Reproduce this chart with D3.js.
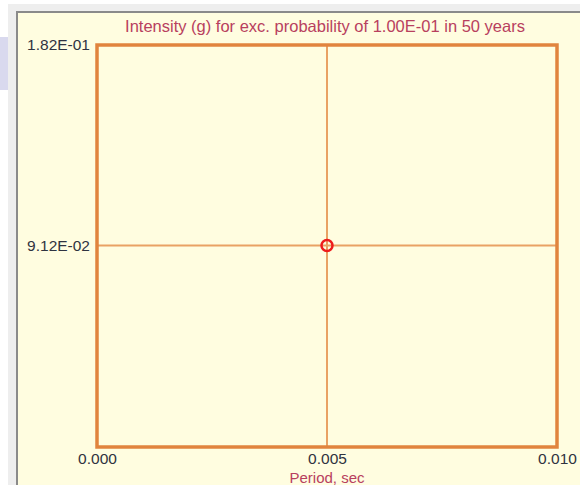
<!DOCTYPE html>
<html>
<head>
<meta charset="utf-8">
<style>
  body { margin: 0; background: #fff; }
  svg { display: block; font-family: "Liberation Sans", Arial, sans-serif; }
</style>
</head>
<body>
<svg width="580" height="485"></svg>
<script src="https://d3js.org/d3.v7.min.js"></script>
<script>
// chart values
var periods = [0.005];
var intensities = [0.0912];
var xTickValues = [0, 0.005, 0.010];
var yTickValues = [0.0912, 0.182];
var yDomain = [0, 0.182];
var xDomain = [0, 0.010];
var titleText = "Intensity (g) for exc. probability of 1.00E-01 in 50 years";
var xTitleText = "Period, sec";

var svg = d3.select("svg");

// window chrome around the panel
svg.append("rect").attr("x", 0).attr("y", 0).attr("width", 580).attr("height", 485).attr("fill", "#ffffff");
svg.append("rect").attr("x", 0).attr("y", 37).attr("width", 8).attr("height", 53).attr("fill", "#d9d9ee");
svg.append("rect").attr("x", 8).attr("y", 4).attr("width", 572).attr("height", 481).attr("fill", "#eeeeee");
svg.append("rect").attr("x", 16).attr("y", 11).attr("width", 564).attr("height", 474).attr("fill", "#8a8a8a");
svg.append("rect").attr("x", 18).attr("y", 13).attr("width", 562).attr("height", 472).attr("fill", "#fffde0");

var margin = {left: 97, right: 557, top: 45, bottom: 447};

var x = d3.scaleLinear().domain(xDomain).range([margin.left, margin.right]);
var y = d3.scaleLinear().domain(yDomain).range([margin.bottom, margin.top]);

// format like 1.82E-01
function sci(v) {
  var s = v.toExponential(2).split("e");
  var e = +s[1];
  var sign = e < 0 ? "-" : "+";
  return s[0] + "E" + sign + (Math.abs(e) < 10 ? "0" : "") + Math.abs(e);
}

// grid lines
var g = svg.append("g");
g.selectAll(".vgrid")
  .data(xTickValues.slice(1, -1))
  .enter().append("line")
    .attr("x1", function(d) { return x(d); })
    .attr("x2", function(d) { return x(d); })
    .attr("y1", margin.top)
    .attr("y2", margin.bottom)
    .attr("stroke", "#e9a264")
    .attr("stroke-width", 2);
g.selectAll(".hgrid")
  .data(yTickValues.slice(0, -1))
  .enter().append("line")
    .attr("x1", margin.left)
    .attr("x2", margin.right)
    .attr("y1", function(d) { return y(d); })
    .attr("y2", function(d) { return y(d); })
    .attr("stroke", "#e9a264")
    .attr("stroke-width", 2);

// plot frame
svg.append("rect")
  .attr("x", margin.left)
  .attr("y", margin.top)
  .attr("width", margin.right - margin.left)
  .attr("height", margin.bottom - margin.top)
  .attr("fill", "none")
  .attr("stroke", "#e1843e")
  .attr("stroke-width", 3.5);

// axes (labels only)
var xAxis = svg.append("g")
  .attr("transform", "translate(0," + margin.bottom + ")")
  .call(d3.axisBottom(x).tickValues(xTickValues).tickSize(0).tickPadding(6).tickFormat(d3.format(".3f")));
xAxis.select(".domain").remove();
xAxis.selectAll("text").attr("fill", "#2f3340").attr("font-size", 15.5).attr("font-family", null);

var yAxis = svg.append("g")
  .attr("transform", "translate(" + (margin.left - 7) + ",0)")
  .call(d3.axisLeft(y).tickValues(yTickValues).tickSize(0).tickPadding(0).tickFormat(sci));
yAxis.select(".domain").remove();
yAxis.selectAll("text").attr("fill", "#2f3340").attr("font-size", 15.5).attr("font-family", null);

// point
svg.selectAll(".pt")
  .data(periods)
  .enter().append("circle")
    .attr("cx", function(d) { return x(d); })
    .attr("cy", function(d, i) { return y(intensities[i]); })
    .attr("r", 5.5)
    .attr("fill", "none")
    .attr("stroke", "#ee1c1c")
    .attr("stroke-width", 2.5);

// titles
svg.append("text")
  .attr("x", 325)
  .attr("y", 32)
  .attr("text-anchor", "middle")
  .attr("fill", "#b8405e")
  .attr("font-size", 16.5)
  .text(titleText);

svg.append("text")
  .attr("x", 327)
  .attr("y", 483)
  .attr("text-anchor", "middle")
  .attr("fill", "#b8405e")
  .attr("font-size", 15)
  .text(xTitleText);
</script>
</body>
</html>
